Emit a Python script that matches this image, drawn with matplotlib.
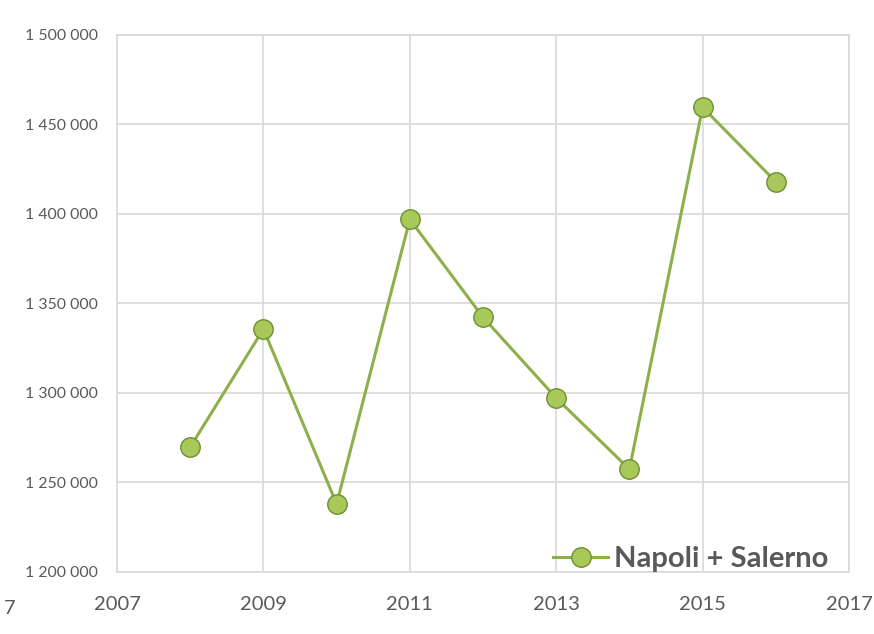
import matplotlib.pyplot as plt
from matplotlib.ticker import FuncFormatter

years = [2008, 2009, 2010, 2011, 2012, 2013, 2014, 2015, 2016]
values = [1269800, 1335700, 1238000, 1397000, 1342300, 1297200, 1257400, 1459600, 1418000]
series_name = "Napoli + Salerno"

plt.rcParams['font.family'] = ['Lato', 'DejaVu Sans']

fig = plt.figure(figsize=(8.74, 6.34), dpi=100)
ax = fig.add_axes([0.1339, 0.0978, 0.8375, 0.847])

ax.plot(years, values, color="#8db04a", linewidth=2.2, marker="o", markersize=14,
        markerfacecolor="#a8c85a", markeredgecolor="#6f8f35", markeredgewidth=1.0,
        label=series_name, zorder=3)

ax.set_xlim(2007, 2017)
ax.set_ylim(1200000, 1500000)
ax.set_xticks(range(2007, 2018, 2))
ax.set_yticks(range(1200000, 1500001, 50000))
ax.yaxis.set_major_formatter(FuncFormatter(lambda v, p: f"{int(v):,}".replace(",", " ")))

ax.grid(True, color="#d9d9d9", linewidth=1.2)
ax.set_axisbelow(True)
for s in ax.spines.values():
    s.set_color("#d9d9d9")
    s.set_linewidth(1.2)

ax.tick_params(length=0, colors="#595959")
ax.tick_params(axis="y", labelsize=11.4, pad=14)
ax.tick_params(axis="x", labelsize=14.5, pad=17)

leg = ax.legend(loc="lower right", frameon=False, handlelength=1.9, borderaxespad=0,
                borderpad=0, bbox_to_anchor=(0.972, 0.0),
                handletextpad=0.2, prop={"size": 21, "weight": "bold"})
for t in leg.get_texts():
    t.set_color("#595959")

fig.text(0.005, 0.04, "7", fontsize=14.5, color="#595959", ha="left", va="center")

fig.savefig("out.png", dpi=100)
